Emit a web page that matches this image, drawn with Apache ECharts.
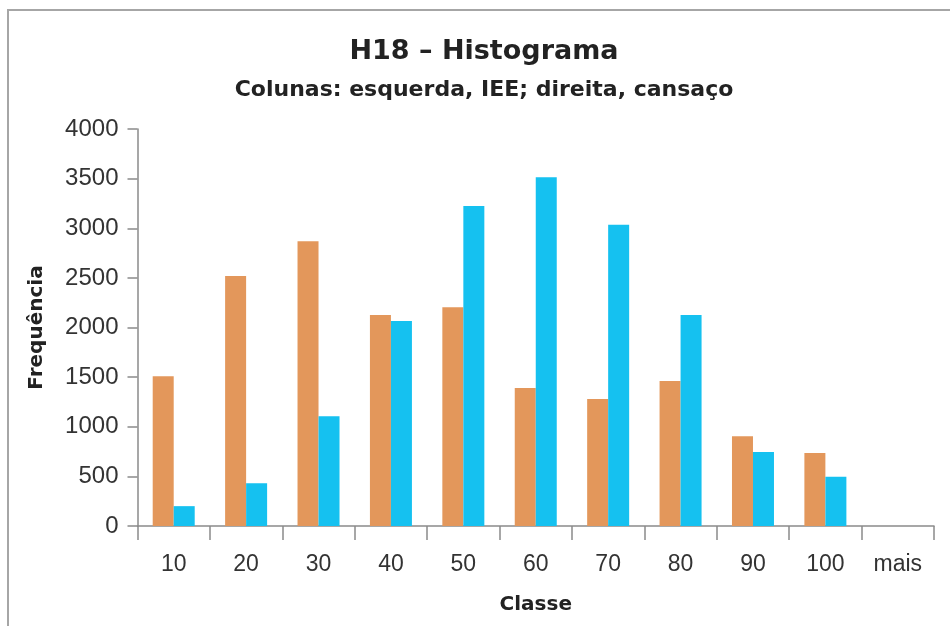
<!DOCTYPE html>
<html>
<head>
<meta charset="utf-8">
<script src="https://cdn.jsdelivr.net/npm/echarts@6/dist/echarts.min.js"></script>
<style>
html,body{margin:0;padding:0;background:#fff;}
#c{width:950px;height:626px;}
</style>
</head>
<body>
<div id="c"></div>
<script>
var categories = ['10','20','30','40','50','60','70','80','90','100','mais'];
var ieeValues = [1510, 2520, 2870, 2125, 2205, 1390, 1280, 1460, 905, 735, 0];
var cansacoValues = [200, 430, 1105, 2065, 3225, 3515, 3035, 2125, 745, 495, 0];
var titleText = 'H18 \u2013 Histograma';
var subtitleText = 'Colunas: esquerda, IEE; direita, cansaço';

var chart = echarts.init(document.getElementById('c'), null, {renderer: 'canvas'});
var axisColor = '#8a8a8a';
var bold = '"DejaVu Sans"';
var regular = '"Liberation Sans", Arial, sans-serif';
chart.setOption({
  animation: false,
  backgroundColor: '#fff',
  title: [
    {text: titleText, left: 484, top: 38, padding: 0, textAlign: 'center',
     textStyle: {fontFamily: bold, fontWeight: 'bold', fontSize: 27, color: '#222'}},
    {text: subtitleText, left: 484, top: 79, padding: 0, textAlign: 'center',
     textStyle: {fontFamily: bold, fontWeight: 'bold', fontSize: 22, color: '#222'}}
  ],
  graphic: [{
    type: 'polyline',
    shape: {points: [[8, 626], [8, 10], [950, 10]]},
    style: {stroke: '#a6a6a6', lineWidth: 2, fill: null}
  }],
  grid: {left: 137.5, right: 16, top: 129, bottom: 100, containLabel: false},
  xAxis: {
    type: 'category',
    data: categories,
    name: 'Classe',
    nameLocation: 'middle',
    nameGap: 69,
    nameTextStyle: {fontFamily: bold, fontWeight: 'bold', fontSize: 20, color: '#222'},
    axisLine: {lineStyle: {color: axisColor, width: 1.5}},
    axisTick: {show: true, length: 14, lineStyle: {color: axisColor, width: 1.5}},
    axisLabel: {margin: 27, fontFamily: regular, fontSize: 23, color: '#333'},
    splitLine: {show: false}
  },
  yAxis: {
    type: 'value',
    min: 0, max: 4000, interval: 500,
    name: 'Frequência',
    nameLocation: 'middle',
    nameRotate: 90,
    nameGap: 91,
    nameTextStyle: {fontFamily: bold, fontWeight: 'bold', fontSize: 20, color: '#222'},
    axisLine: {show: true, lineStyle: {color: axisColor, width: 1.5}},
    axisTick: {show: true, length: 10, lineStyle: {color: axisColor, width: 1.5}},
    axisLabel: {margin: 19, fontFamily: regular, fontSize: 24, color: '#333',
      formatter: function (v) { return String(v); }},
    splitLine: {show: false}
  },
  series: [
    {name: 'IEE', type: 'bar', data: ieeValues, barWidth: 21, barGap: '0%',
     itemStyle: {color: '#E3975B'}},
    {name: 'cansaço', type: 'bar', data: cansacoValues, barWidth: 21, barGap: '0%',
     itemStyle: {color: '#15C1F0'}}
  ]
});
</script>
</body>
</html>
